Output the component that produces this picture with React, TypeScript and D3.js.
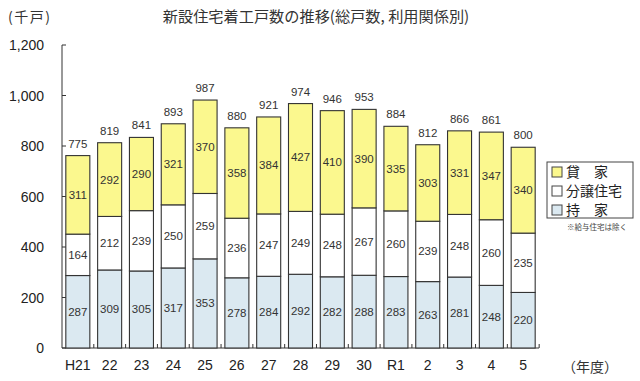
import React from "react";
import * as d3 from "d3";

const categories = ["H21", "22", "23", "24", "25", "26", "27", "28", "29", "30", "R1", "2", "3", "4", "5"];
const mochiie = [287, 309, 305, 317, 353, 278, 284, 292, 282, 288, 283, 263, 281, 248, 220];
const bunjo = [164, 212, 239, 250, 259, 236, 247, 249, 248, 267, 260, 239, 248, 260, 235];
const kashiya = [311, 292, 290, 321, 370, 358, 384, 427, 410, 390, 335, 303, 331, 347, 340];
const totals = [775, 819, 841, 893, 987, 880, 921, 974, 946, 953, 884, 812, 866, 861, 800];
const yTicks = [0, 200, 400, 600, 800, 1000, 1200];

const seriesNames = ["持家", "分譲住宅", "貸家"];
const legendLabels = ["貸　家", "分譲住宅", "持　家"];
const colors: Record<string, string> = { 持家: "#dbe9f1", 分譲住宅: "#ffffff", 貸家: "#fbf88e" };

export default function App() {
  const W = 640, H = 381;
  const x = d3.scaleBand<string>().domain(categories).range([62, 539]).paddingInner(0.245).paddingOuter(0.12);
  const y = d3.scaleLinear().domain([0, 1200]).range([348, 45]);
  const rows = categories.map((c, i) => ({ cat: c, 持家: mochiie[i], 分譲住宅: bunjo[i], 貸家: kashiya[i] }));
  const stack = d3.stack<any>().keys(seriesNames)(rows);
  const step = x.step();
  const font = "'Liberation Sans', Arial, 'Noto Sans CJK JP', sans-serif";
  const jfont = "'Noto Sans CJK JP', sans-serif";
  const legendKeys = ["貸家", "分譲住宅", "持家"];

  return (
    <svg width={W} height={H} style={{ position: "absolute", left: 0, top: 0, background: "#fff" }} fontFamily={font}>
      <text x={8} y={22} fontSize={14} fill="#333" fontFamily={jfont} letterSpacing={1.5}>(千戸)</text>
      <text x={316} y={22} fontSize={15.2} fill="#333" textAnchor="middle" fontFamily={jfont}>
        新設住宅着工戸数の推移(総戸数, 利用関係別)
      </text>

      {/* y axis */}
      <line x1={62} x2={62} y1={y(1200)} y2={y(0)} stroke="#333" strokeWidth={1} />
      {yTicks.map((t) => (
        <g key={t}>
          <line x1={62} x2={66} y1={y(t)} y2={y(t)} stroke="#333" />
          <text x={44} y={y(t) + 5} fontSize={14} textAnchor="end" fill="#222">
            {d3.format(",")(t)}
          </text>
        </g>
      ))}

      {/* x axis */}
      <line x1={62} x2={539} y1={y(0)} y2={y(0)} stroke="#333" />
      {categories.map((c, i) => (
        <line key={"t" + c} x1={62 + step * (i + 1)} x2={62 + step * (i + 1)} y1={y(0)} y2={y(0) - 4} stroke="#333" />
      ))}

      {/* bars */}
      {stack.map((s) => (
        <g key={s.key}>
          {s.map((d, i) => (
            <g key={i}>
              <rect
                x={x(categories[i])!}
                width={x.bandwidth()}
                y={y(d[1])}
                height={y(d[0]) - y(d[1])}
                fill={colors[s.key]}
                stroke="#333"
                strokeWidth={1.1}
              />
              <text
                x={x(categories[i])! + x.bandwidth() / 2}
                y={(y(d[0]) + y(d[1])) / 2 + 4}
                fontSize={11.5}
                textAnchor="middle"
                fill="#333"
              >
                {d[1] - d[0]}
              </text>
            </g>
          ))}
        </g>
      ))}

      {/* totals */}
      {categories.map((c, i) => (
        <text key={"tot" + c} x={x(c)! + x.bandwidth() / 2} y={y(mochiie[i] + bunjo[i] + kashiya[i]) - 8} fontSize={11.5} textAnchor="middle" fill="#333">
          {totals[i]}
        </text>
      ))}

      {/* x labels */}
      {categories.map((c) => (
        <text key={"xl" + c} x={x(c)! + x.bandwidth() / 2} y={370} fontSize={14} textAnchor="middle" fill="#222">
          {c}
        </text>
      ))}
      <text x={562} y={372} fontSize={14} fill="#333" fontFamily={jfont}>（年度）</text>

      {/* legend */}
      <rect x={547} y={162} width={86} height={56} fill="#fff" stroke="#444" strokeWidth={1} />
      {legendKeys.map((k, i) => (
        <g key={k}>
          <rect x={552} y={167 + i * 19} width={10} height={10} fill={colors[k]} stroke="#444" strokeWidth={1} />
          <text x={566} y={177 + i * 19} fontSize={14} fill="#222" fontFamily={jfont}>
            {legendLabels[i]}
          </text>
        </g>
      ))}
      <text x={567} y={230} fontSize={7.5} fill="#444" fontFamily={jfont}>※給与住宅は除く</text>
    </svg>
  );
}
